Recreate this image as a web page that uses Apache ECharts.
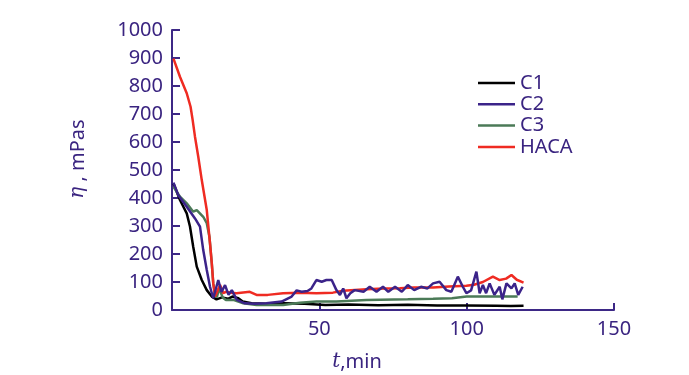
<!DOCTYPE html>
<html>
<head>
<meta charset="utf-8">
<script src="https://cdn.jsdelivr.net/npm/echarts@6/dist/echarts.min.js"></script>
<style>
html,body{margin:0;padding:0;background:#fff;}
#chart{width:689px;height:375px;}
</style>
</head>
<body>
<div id="chart"></div>
<script>
var seriesNames = ['C1', 'C2', 'C3', 'HACA'];
var xTicks = [0, 50, 100, 150];
var yTicks = [0, 100, 200, 300, 400, 500, 600, 700, 800, 900, 1000];

var c1T = [0.5, 1.5, 2.7, 5, 6.1, 7.2, 8.4, 10.1, 11.8, 13.5, 15.1, 17, 19, 20.5, 22.5, 24, 27, 32, 38, 45, 52, 60, 70, 80, 90, 100, 110, 115, 119.3];
var c1V = [452, 425, 393, 345, 298, 226, 155, 107, 71, 48, 38, 45, 40, 48, 42, 30, 24, 22, 24, 22, 18, 20, 17, 19, 16, 16, 15, 14, 15];

var c2T = [0.5, 2.1, 5, 7.8, 9.5, 10.6, 11.8, 12.9, 14, 14.6, 15.7, 16.8, 18, 19.2, 20.3, 22, 24.7, 28, 32, 37.2, 40.6, 42.3, 44, 46, 47.3, 49, 50.8, 52.4, 54.2, 55.8, 57, 58.1, 59.2, 60.5, 62, 65, 67.1, 69.4, 71.6, 73.4, 75.7, 78, 80, 82.2, 84.5, 86.7, 88.6, 90.8, 93.1, 94.8, 97, 98.7, 99.9, 101.5, 103.3, 104.4, 105.5, 106.6, 107.8, 109.4, 111.2, 112.1, 113.5, 115.2, 116.3, 117.5, 119];
var c2V = [455, 411, 369, 327, 298, 214, 143, 83, 42, 36, 107, 65, 89, 54, 71, 36, 24, 22, 24, 30, 48, 70, 65, 68, 77, 107, 101, 107, 107, 71, 54, 77, 42, 60, 71, 65, 83, 65, 83, 65, 83, 65, 89, 71, 83, 77, 95, 101, 71, 65, 119, 83, 60, 70, 137, 60, 89, 60, 95, 54, 83, 38, 95, 77, 95, 54, 83];

var c3T = [0.5, 2.7, 5, 7.2, 8.4, 10.6, 11.8, 12.7, 13.5, 14, 14.6, 15.2, 16, 17.2, 18.3, 20.8, 24.2, 28.7, 37.7, 43.4, 49, 55.8, 66, 80, 88.6, 95, 100, 110, 117.3];
var c3V = [440, 405, 381, 351, 357, 333, 310, 262, 167, 95, 60, 45, 77, 45, 36, 36, 24, 18, 18, 26, 30, 30, 36, 38, 40, 42, 48, 48, 48];

var hacaT = [0.5, 2.7, 5, 6.3, 7, 7.8, 8.9, 10.1, 11.8, 12.9, 13.5, 14, 14.6, 16.3, 17.4, 18.3, 20, 21.9, 26.4, 28.7, 32.5, 37.7, 43.3, 49, 54.6, 58.1, 66, 72, 77.3, 82, 88.6, 94, 99.9, 102.5, 105.5, 108.9, 111.2, 113.4, 115.2, 117, 119.3];
var hacaV = [898, 833, 774, 726, 679, 619, 548, 464, 357, 238, 167, 95, 48, 89, 60, 65, 62, 60, 65, 54, 54, 60, 62, 60, 62, 69, 74, 77, 78, 80, 80, 84, 87, 90, 100, 119, 107, 112, 125, 108, 98];

function zip(t, v) { return t.map(function (x, i) { return [x, v[i]]; }); }

var TEXT = '#3a2480';
var AXIS = '#3d2886';
var FONT = 'Noto Sans';
var colors = ['#000000', '#3b2389', '#4b7a57', '#ef2b22'];
var seriesData = [zip(c1T, c1V), zip(c2T, c2V), zip(c3T, c3V), zip(hacaT, hacaV)];
var legendIcon = 'path://M0,0L37,0L37,2.5L0,2.5Z';

var chart = echarts.init(document.getElementById('chart'));
chart.setOption({
  animation: false,
  backgroundColor: '#ffffff',
  grid: { left: 172, top: 30, right: 75, bottom: 65, containLabel: false },
  legend: {
    orient: 'vertical', left: 478, top: 73, padding: 0, itemWidth: 37, itemHeight: 14, itemGap: 1.3,
    icon: legendIcon,
    data: seriesNames,
    textStyle: { color: TEXT, fontSize: 20, fontFamily: FONT, lineHeight: 16 }
  },
  xAxis: {
    type: 'value', min: xTicks[0], max: xTicks[xTicks.length - 1], interval: 50,
    axisLine: { lineStyle: { color: AXIS, width: 2 } },
    axisTick: { inside: true, length: 7, lineStyle: { color: AXIS, width: 2 } },
    axisLabel: { color: TEXT, fontSize: 20, fontFamily: FONT, margin: 9, showMinLabel: false },
    splitLine: { show: false }
  },
  yAxis: {
    type: 'value', min: yTicks[0], max: yTicks[yTicks.length - 1], interval: 100,
    axisLine: { show: true, lineStyle: { color: AXIS, width: 2 } },
    axisTick: { show: true, inside: true, length: 8, lineStyle: { color: AXIS, width: 2 } },
    axisLabel: { color: TEXT, fontSize: 20, fontFamily: FONT, margin: 9, formatter: function (v) { return String(v); } },
    splitLine: { show: false }
  },
  graphic: [
    {
      type: 'text', x: 78, y: 159, rotation: Math.PI / 2,
      style: {
        text: '{i|η} , mPas', fill: TEXT, font: '20px "Noto Sans"', align: 'center', verticalAlign: 'middle',
        rich: { i: { fontStyle: 'italic', fontFamily: 'DejaVu Serif', fontSize: 20, fill: TEXT } }
      }
    },
    {
      type: 'text', x: 357, y: 362,
      style: {
        text: '{i|t},min', fill: TEXT, font: '20px "Noto Sans"', align: 'center', verticalAlign: 'middle',
        rich: { i: { fontStyle: 'italic', fontFamily: 'DejaVu Serif', fontSize: 20, fill: TEXT } }
      }
    }
  ],
  series: seriesNames.map(function (n, i) {
    return {
      name: n, type: 'line', data: seriesData[i], symbol: 'none', showSymbol: false,
      lineStyle: { color: colors[i], width: 2.5 }, itemStyle: { color: colors[i] }, z: 2 + (i === 1 ? 1 : 0)
    };
  })
});
</script>
</body>
</html>
